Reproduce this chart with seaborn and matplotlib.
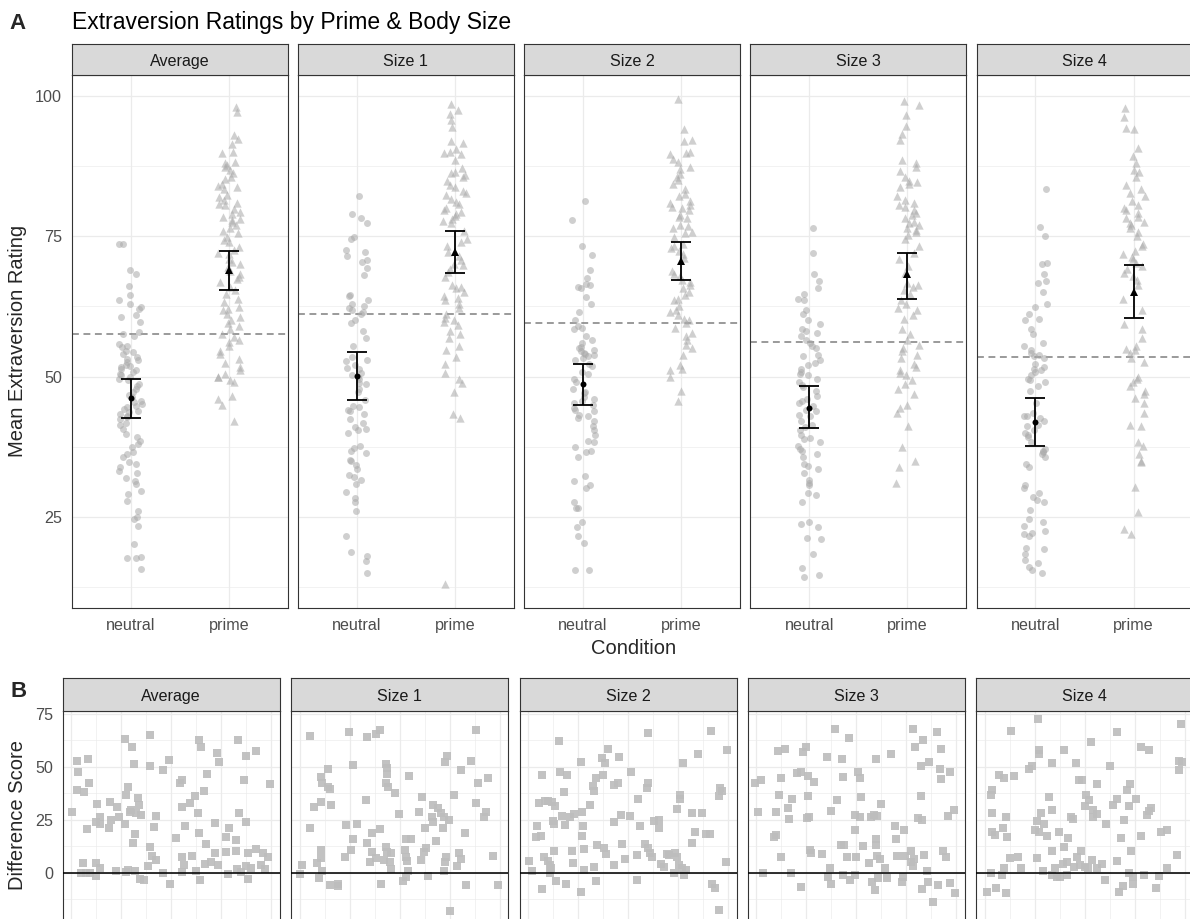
import numpy as np
import pandas as pd
import matplotlib
matplotlib.use("Agg")
import matplotlib.pyplot as plt
from matplotlib.ticker import FixedLocator, NullLocator
import seaborn as sns

# ---------------- data ----------------
panels = ["Average", "Size 1", "Size 2", "Size 3", "Size 4"]
conditions = ["neutral", "prime"]

# individual mean extraversion ratings
avg_neutral = [73.6, 73.6, 69.0, 68.3, 66.1, 64.6, 63.7, 63.0, 62.4, 62.1, 61.0, 60.6, 59.7, 57.9,
               57.6, 57.2, 55.8, 55.2, 54.6, 54.0, 53.5, 52.9, 52.6, 52.0, 51.7, 51.4, 51.1, 50.8,
               50.5, 49.9, 49.3, 48.7, 47.8, 47.2, 46.3, 45.7, 45.1, 44.5, 44.2, 43.9, 43.3, 43.0,
               42.4, 41.8, 41.3, 39.8, 39.2, 38.6, 38.0, 37.4, 36.5, 36.2, 35.6, 34.7, 34.4, 33.8,
               33.2, 32.9, 32.0, 31.4, 30.8, 29.6, 29.0, 27.9, 26.0, 24.9, 24.6, 23.4, 20.1, 17.9,
               17.7, 17.7, 15.7, 55.5, 54.3, 53.1, 51.9, 50.2, 49.6, 48.3, 46.8, 45.4, 44.8, 43.6,
               42.8, 40.6]
avg_prime = [98.1, 97.2, 93.0, 92.3, 91.4, 90.1, 89.8, 88.3, 88.0, 87.7, 87.4, 86.8, 86.2, 85.6,
             85.3, 84.4, 83.8, 83.5, 82.3, 82.0, 81.4, 80.8, 80.5, 79.9, 79.3, 79.0, 78.5, 77.9,
             77.6, 77.0, 76.4, 75.5, 74.9, 74.3, 74.0, 73.1, 72.5, 71.9, 71.0, 70.4, 69.5, 68.9,
             68.3, 67.7, 67.4, 66.8, 66.0, 64.8, 63.9, 63.3, 62.4, 61.8, 61.2, 60.6, 60.0, 59.1,
             58.5, 57.6, 57.0, 56.1, 55.5, 54.6, 54.0, 53.2, 51.7, 51.1, 50.5, 49.9, 49.3, 49.0,
             46.6, 46.0, 45.0, 42.1, 84.0, 81.0, 78.0, 76.0, 72.0, 70.0, 65.5, 62.0, 59.5, 56.5,
             52.5, 50.0]
s1_neutral = [82.1, 79.0, 78.3, 77.3, 74.9, 74.6, 72.5, 72.2, 71.5, 70.8, 70.5, 69.4, 68.1, 64.6,
              64.3, 63.6, 62.9, 62.6, 62.2, 61.9, 61.2, 59.5, 58.1, 56.8, 55.4, 53.4, 52.7, 52.0,
              51.6, 51.3, 50.6, 49.9, 49.6, 48.9, 48.6, 47.2, 45.8, 44.8, 44.1, 43.8, 43.4, 42.4,
              41.7, 40.7, 40.4, 40.0, 37.6, 37.3, 36.3, 35.2, 34.9, 34.2, 33.5, 32.5, 32.1, 31.5,
              30.8, 29.4, 28.4, 27.7, 26.0, 21.5, 18.8, 18.1, 17.1, 15.0, 61.5, 60.0, 53.0, 50.2,
              47.8, 44.5, 41.0, 36.8]
s1_prime = [98.5, 97.5, 96.8, 95.8, 94.4, 92.0, 91.7, 90.6, 89.9, 89.6, 88.6, 87.2, 86.5, 86.2,
            85.5, 84.8, 84.1, 83.8, 83.1, 82.4, 81.7, 81.1, 80.7, 80.0, 79.3, 79.0, 78.7, 78.0,
            77.3, 75.9, 74.6, 73.2, 72.2, 71.5, 70.8, 69.8, 69.1, 68.7, 67.7, 66.3, 65.7, 65.0,
            64.3, 63.6, 62.9, 62.2, 61.2, 60.5, 59.8, 59.2, 58.1, 56.8, 55.4, 54.7, 53.4, 52.3,
            50.6, 49.6, 48.9, 47.2, 43.4, 42.7, 13.0, 90.0, 86.0, 82.8, 79.6, 77.7, 74.0, 70.0,
            66.0, 64.0, 60.0, 57.5]
s2_neutral = [81.3, 77.9, 73.3, 71.6, 69.0, 67.6, 66.5, 66.3, 66.0, 65.7, 64.1, 62.9, 61.5, 60.0,
              59.0, 58.6, 58.4, 57.2, 56.6, 55.1, 54.8, 54.5, 54.2, 53.9, 53.6, 53.3, 52.3, 50.8,
              50.5, 49.0, 47.8, 47.2, 46.3, 45.6, 45.3, 45.0, 44.4, 43.8, 43.2, 42.6, 41.1, 40.5,
              38.6, 38.3, 37.4, 36.8, 36.5, 35.6, 32.3, 31.3, 30.7, 30.1, 27.7, 26.5, 26.5, 24.0,
              23.1, 21.6, 20.3, 15.5, 15.6, 56.0, 55.3, 54.0, 53.0, 51.8, 49.5, 47.0, 46.0, 44.0,
              43.0, 42.0, 39.5]
s2_prime = [99.5, 94.2, 92.1, 91.9, 90.1, 89.9, 89.7, 88.3, 87.3, 87.0, 86.1, 85.5, 84.4, 83.4,
            82.2, 81.3, 80.9, 80.6, 80.3, 79.7, 78.8, 78.2, 77.0, 76.4, 75.8, 75.5, 74.9, 73.6,
            73.3, 72.4, 71.8, 71.2, 68.8, 68.2, 67.9, 67.3, 66.3, 65.7, 65.1, 63.9, 63.6, 61.8,
            61.5, 60.9, 60.3, 60.0, 58.7, 57.2, 56.6, 55.7, 55.1, 53.9, 52.0, 51.4, 51.1, 49.9,
            47.5, 45.6, 88.8, 85.0, 82.6, 80.0, 78.5, 76.8, 73.0, 66.8, 64.5, 62.5, 59.5, 57.8]
s3_neutral = [76.4, 72.0, 68.2, 67.0, 65.7, 64.8, 63.9, 63.6, 61.8, 61.2, 60.0, 59.3, 58.4, 58.1,
              57.8, 57.2, 56.6, 56.0, 55.1, 53.9, 53.6, 53.0, 52.0, 51.4, 50.8, 50.2, 49.6, 49.0,
              48.1, 47.5, 46.6, 45.6, 45.3, 44.7, 43.8, 43.2, 42.9, 42.0, 41.4, 40.5, 39.6, 39.0,
              38.3, 37.7, 37.1, 36.8, 36.2, 35.6, 34.4, 34.1, 33.5, 32.9, 31.6, 31.0, 30.7, 29.2,
              28.9, 27.7, 24.0, 23.7, 23.1, 21.3, 21.0, 18.3, 15.8, 14.6, 14.2, 55.5, 52.5, 50.5,
              48.5, 46.0, 44.0, 41.0, 38.8]
s3_prime = [99.2, 98.4, 96.6, 94.6, 93.3, 92.1, 88.6, 88.0, 87.3, 86.7, 85.5, 84.9, 84.3, 83.7,
            82.2, 80.9, 80.6, 80.3, 79.7, 78.8, 78.2, 77.6, 77.0, 76.4, 75.8, 75.2, 74.6, 73.3,
            72.1, 70.9, 69.7, 68.5, 66.6, 66.0, 65.4, 64.8, 63.6, 63.0, 61.8, 60.9, 60.3, 58.4,
            57.5, 56.6, 55.7, 55.1, 53.9, 53.3, 52.3, 51.7, 51.1, 50.2, 49.3, 48.7, 47.8, 46.9,
            45.0, 44.4, 43.5, 41.1, 37.4, 35.0, 33.8, 31.0, 84.6, 81.5, 79.2, 77.3, 76.1, 66.3,
            62.2, 54.5, 50.7]
s4_neutral = [83.4, 76.7, 75.0, 70.3, 70.0, 68.2, 67.0, 66.7, 65.1, 63.0, 62.4, 61.2, 60.3, 60.0,
              58.4, 57.5, 56.0, 55.4, 54.8, 54.2, 53.9, 53.3, 52.3, 51.7, 51.4, 50.8, 50.2, 49.6,
              49.0, 48.4, 47.5, 45.3, 43.5, 42.9, 42.6, 42.0, 41.4, 41.1, 40.5, 39.6, 39.3, 38.3,
              37.1, 36.5, 36.2, 35.6, 34.4, 33.8, 30.7, 30.1, 29.2, 28.6, 28.0, 27.7, 26.2, 24.6,
              24.0, 23.4, 22.5, 22.2, 21.9, 21.6, 19.5, 19.2, 18.3, 17.3, 16.7, 16.1, 15.5, 14.9,
              53.6, 51.1, 49.3, 43.0, 40.0, 36.8]
s4_prime = [97.8, 96.2, 94.3, 94.2, 90.7, 89.3, 88.1, 86.9, 86.4, 85.6, 84.2, 82.8, 82.2, 81.3,
            80.6, 79.7, 79.1, 78.5, 78.2, 77.6, 77.0, 76.4, 75.8, 73.6, 73.3, 72.4, 71.8, 70.9,
            70.3, 69.7, 69.1, 67.9, 67.3, 66.3, 63.9, 61.8, 59.3, 58.4, 56.9, 55.4, 54.8, 54.2,
            53.3, 52.6, 49.6, 49.0, 48.4, 47.5, 46.9, 45.3, 43.5, 41.4, 41.1, 38.3, 37.7, 36.2,
            35.0, 34.7, 30.4, 25.9, 22.8, 21.9, 83.5, 80.0, 77.3, 75.0, 71.3, 68.5, 55.0, 50.0,
            46.2]

neutral_ratings = [avg_neutral, s1_neutral, s2_neutral, s3_neutral, s4_neutral]
prime_ratings = [avg_prime, s1_prime, s2_prime, s3_prime, s4_prime]

# condition means with 95% confidence limits, and the overall panel mean
mean_neutral = [46.2, 50.1, 48.7, 44.4, 41.9]
ci_neutral_low = [42.6, 45.8, 44.9, 40.8, 37.7]
ci_neutral_high = [49.6, 54.4, 52.2, 48.3, 46.1]
mean_prime = [69.0, 72.2, 70.6, 68.2, 65.1]
ci_prime_low = [65.5, 68.4, 67.3, 63.9, 60.4]
ci_prime_high = [72.4, 75.9, 74.0, 72.1, 69.8]
grand_mean = [57.5, 61.1, 59.5, 56.1, 53.5]

# difference scores (prime - neutral) by participant
avg_part = [0.5, 3, 3.3, 3, 6.2, 8.3, 8.8, 8, 5.8, 5, 7.5, 9.2, 12.5, 12.5, 14.2, 12.8, 12.5, 14.2,
            14.5, 19.2, 18.8, 20, 23, 23.8, 22.5, 26.7, 30.3, 31.2, 28.3, 27.2, 26.7, 29.2, 30,
            33.3, 33.8, 32.5, 35, 30.8, 32, 27.2, 28.3, 31.7, 34.2, 36.2, 39.2, 39.5, 41.2, 42.5,
            39.2, 40.5, 42.2, 38.3, 45.8, 45.8, 48.8, 49.5, 52.5, 54.2, 55.3, 55.3, 56.7, 55.5,
            56.2, 55.5, 60.5, 59.2, 61.7, 63.3, 63.7, 62.5, 64.2, 63.8, 65, 66.2, 67.8, 67.5, 66.7,
            70, 71.7, 73, 73.7, 71.7, 73.3, 77.5, 78.8, 77.5, 78.3, 82.2, 82.2, 82.8, 83.3, 83.7,
            85, 87.2, 86.3, 87.5, 88.3, 87.5, 88.3, 90, 92.2, 92.2, 95, 95.8, 96.7, 98.3, 99.2]
avg_diff = [28.8, 52.8, 47.7, 39.0, 38.2, 53.6, 42.2, 20.4, 4.6, 0, 0, 0, 4.6, -1.7, 2.4, 32.4,
            24.0, 22.9, 26.4, 33.5, 20.9, 24.8, 31.1, 26.4, 0.8, 63.0, 59.2, 51.2, 40.6, 36.7,
            23.2, 28.8, 29.5, 35.1, 31.9, 28.0, 27.2, 14.1, 18.2, 0.3, 1.4, 0.8, -2.8, -3.6, 65.1,
            50.4, 21.6, 26.9, 12.2, 7.7, 6.2, 3.0, -0.2, 48.2, 53.2, -5.2, 16.4, 42.2, 43.8, 31.1,
            21.9, 7.4, 3.5, 0.3, 7.7, 32.7, 36.2, 28.3, 18.5, 0.6, -3.6, 62.7, 59.2, 38.7, 46.6,
            13.7, 3.9, 5.1, 9.3, 56.4, 52.0, 23.5, 3.5, 16.9, 20.9, 9.8, -0.5, 15.3, 10.3, 1.6,
            62.7, 28.0, 0.3, 55.1, 43.8, 24.0, 9.3, 3.0, -2.8, 2.4, 57.5, 11.4, 3.5, 9.3, 1.9,
            7.4, 41.7]
s1_part = [5, 24.5, 33.7, 38.3, 40.3, 88, 73.7, 72.5, 85.8, 80.8, 14.3, 26.7, 43, 43.7, 43.7,
           54.5, 10.8, 11.3, 14.2, 15.3, 43, 44.2, 47.5, 89.2, 94, 77.2, 61, 10.5, 7.2, 15.8, 33,
           66.7, 69.2, 70.8, 72, 74.7, 66.3, 66.7, 88.3, 93.3, 92, 49.7, 59.7, 5, 23, 28.8, 36.3,
           40.3, 62.5, 71.7, 82.5, 26.7, 33.7, 53.3, 55.8, 68, 10.8, 25.8, 22.5, 10.8, 8.8, 1.2,
           36.3, 38, 35.3, 43, 43.7, 45.8, 42, 45.3, 45.8, 52.5, 53, 53.7, 63.3, 62, 60.8, 73,
           72.5, 79.7, 80.8, 78.7, 96.7, 11.3, 0.3, 9.7, 15, 19.2, 19.2, 40.8, 53, 51.7, 54.2,
           64.2, 72, 83, 99.2, 75]
s1_diff = [64.3, 66.2, 63.8, 65.4, 67.5, 67.1, 54.8, 52.0, 52.8, 48.2, 48.8, 50.6, 51.3, 49.3,
           46.6, 45.7, 45.0, 42.2, 40.3, 39.3, 42.5, 40.6, 37.8, 42.2, 44.5, 36.7, 35.5, 33.5,
           30.8, 31.9, 34.3, 31.9, 30.3, 28.0, 26.1, 24.8, 26.4, 24.0, 32.7, 28.8, 26.4, 27.6,
           28.8, 20.9, 22.4, 22.9, 18.5, 20.4, 21.2, 20.9, 18.8, 16.1, 14.1, 16.1, 16.1, 15.0,
           10.9, 10.6, 7.4, 7.1, 4.7, 3.5, 9.8, 7.1, 5.1, 12.2, 9.8, 9.3, 5.8, 5.1, 1.9, 10.6,
           7.4, 5.5, 11.8, 9.8, 5.8, 7.4, 5.1, 9.3, 6.6, 3.0, 7.7, 0.8, -0.8, -2.4, -6.0, -5.2,
           -6.5, -5.5, -2.1, -3.9, 0.8, -1.7, 0.8, -5.7, -6.0, -18.2]
s2_part = [0.3, 1.7, 6.7, 4.2, 3.7, 6.3, 5.3, 7, 8.3, 10, 12, 13.3, 8, 10, 10.8, 11.3, 10.8, 13,
           12.5, 13, 13.7, 15.3, 15.8, 19.2, 18, 17, 18.3, 20.8, 23, 18.7, 22, 22.5, 26.3, 27,
           27.5, 26.7, 28, 28, 26.3, 30.8, 32.5, 32.7, 34, 34.2, 32.7, 33.7, 37.5, 37, 38.3, 40,
           38, 38.7, 45.3, 43, 45, 43, 46.3, 42.7, 46.7, 48.3, 51.3, 50.8, 54.7, 55.8, 54.2, 54.2,
           60, 59.7, 59.2, 58.3, 60, 60.8, 61.7, 63, 65.3, 65.3, 66.3, 68, 69.2, 70.3, 73.3, 74.5,
           73, 75.3, 76.7, 78, 78.7, 74.2, 75.8, 75.8, 77.2, 81.7, 82, 83.3, 84.7, 87, 88.7, 90.8,
           91.3, 92, 93.3, 95.3, 95.8, 95.3, 97, 98.7, 99.2]
s2_diff = [5.7, 0.9, -7.9, 21.8, 16.6, 17.4, 32.9, 46.3, 33.6, 33.6, 33.2, 31.3, 7.6, 5.7, 3.6,
           2.1, 0, 10.4, 24.2, 23.1, -4.1, 61.9, 47.7, 46.3, 38.2, 26.9, 22.3, 26.2, 27.6, -5.1,
           10.4, 4.4, 52.1, 28.4, 21.8, 17.4, 11.1, 1.3, -9.0, 31.8, 40.8, 38.4, 44.5, 13.1, 2.5,
           -3.8, 46.0, 54.2, 51.8, 58.5, 11.5, 8.8, 54.7, 41.5, 42.3, 23.7, 27.3, 3.6, 13.6, 6.3,
           47.7, 26.9, 34.9, 22.1, 8.4, -3.5, 65.7, 42.3, 40.0, 13.4, 11.5, 9.2, 7.6, 24.2, 25.0,
           21.0, 4.1, 2.8, 8.8, 8.4, 9.2, 7.6, -0.3, 3.6, 2.1, -1.1, 1.3, 30.0, 36.8, 34.8, 51.5,
           28.1, 14.2, 19.3, 55.8, 28.1, 18.3, 18.3, 66.7, -5.1, -7.0, -17.4, 40.0, 36.0, 38.7,
           5.2, 57.7]
s3_part = [-0.5, 2.5, 0.8, 3.3, 8.8, 9.7, 10, 10.8, 14.2, 12.5, 11.2, 12.2, 15.8, 16.2, 17.8,
           17.5, 20.5, 22.2, 23.3, 24.7, 25.8, 28.8, 25.8, 26.3, 25.5, 26.7, 27.5, 22.5, 32.8,
           37.2, 39.5, 40.5, 35.3, 35.8, 36.7, 37.2, 42.8, 43.3, 42.2, 43.8, 43.3, 45.5, 46.3,
           46.7, 49.5, 50, 49.2, 50.8, 51.7, 52.5, 49.5, 51.7, 53.3, 56.2, 57.2, 58.8, 60.5, 60,
           60, 60, 60.5, 61.7, 62.2, 57.8, 59.5, 60.8, 64.5, 65.5, 67.2, 69.5, 70, 70.5, 72.8,
           73.8, 74.5, 73.3, 77.5, 77.2, 78.3, 78.8, 78.3, 79.5, 83.3, 82.2, 86.2, 82.2, 80.8,
           82.8, 83.8, 85.5, 85.8, 82.8, 88.3, 90.8, 90.5, 92.2, 91.7, 96.7, 92.5, 93.3, 95, 95.8,
           98.8, 96.7, 99.2]
s3_diff = [42.3, 43.6, 28.4, 0, 16.7, 17.9, 28.4, 57.3, 58.5, 44.5, 36.5, 7.6, 30.5, 25.3, 34.9,
           0, 46.8, 47.4, 56.9, 59.4, 45.8, 42.7, 36.3, 26.5, 25.7, 10.7, 9.5, -6.6, 8.8, 28.9,
           67.9, 34.1, 54.7, -1.9, 2.1, -5.4, 53.7, 45.2, 13.1, 13.1, -1.1, 7.6, 63.7, -3.5, -1.1,
           7.6, 20.2, 47.4, 44.7, 35.7, 27.3, 26.5, 12.8, 4.4, 26.5, 27.3, 26.9, 53.7, 15.8, 13.1,
           7.9, 6.3, 32.5, -4.3, -8.2, -2.7, 2.1, -2.7, 56.2, 21.8, 15.8, 7.9, -4.3, 19.9, 7.9,
           -1.9, 10.4, 5.2, 3.2, 6.3, 67.9, 59.4, 62.6, 50.2, 52.1, 36.3, 25.7, 25.0, 8.4, 0.9,
           -4.3, -7.9, -13.7, -5.8, 66.3, 58.5, 48.7, 47.4, 44.2, 10.0, 7.3, 26.9, 29.7, -4.7,
           -9.8]
s4_part = [1, 3.3, 5.5, 8.8, 10.5, 9.7, 3.8, 5, 9.3, 11, 3.8, 10.5, 3, 3.8, 7.2, 9.7, 14.7, 13.3,
           12.7, 16.8, 18.3, 22.2, 23.8, 26.8, 27.2, 27.2, 33.5, 32.2, 33.8, 28, 26.3, 29.7, 25.2,
           27.2, 31, 26.3, 33.5, 29, 33.8, 36, 37.7, 35, 39.7, 37, 39.7, 41.7, 39.3, 41.3, 41, 43,
           44.3, 45.5, 47.2, 48.8, 48, 46, 44.7, 47.7, 50.5, 52.2, 50, 54.3, 56, 54.3, 53, 56, 50,
           51.7, 53.8, 56.3, 58.8, 60.5, 60, 62.7, 64.3, 66.3, 66.3, 66, 67.2, 69.3, 68.3, 69.7,
           71.3, 72.7, 72.2, 75.8, 73.3, 72.2, 74.3, 74.3, 78, 78.3, 82.2, 81, 82.2, 83, 79.7,
           85.5, 87.2, 88.3, 91.3, 91.3, 96, 97.2, 97.2, 98.8, 98]
s4_diff = [-9.0, -0.3, -7.0, -1.1, -9.5, 2.1, 19.4, 17.9, 21.0, 16.7, 28.1, 26.5, 36.8, 39.2,
           46.3, 44.7, 45.8, 66.8, 6.8, 7.6, 2.1, 48.7, 50.2, 72.7, 58.1, 56.2, 51.8, 35.7, 29.7,
           28.1, 24.2, 23.1, 19.9, 19.0, 17.1, 6.8, 10.4, 0.9, -1.1, -1.9, -1.9, 2.1, 57.8, 19.0,
           12.3, 16.3, 4.1, 5.2, -1.1, 26.5, 25.3, 51.8, 43.6, 43.6, 10.4, 7.3, 2.8, 3.6, 36.8,
           34.1, 31.6, 29.7, 27.8, 26.2, 61.6, 42.0, 2.8, 2.1, 6.0, 2.1, 4.1, 23.1, -3.5, 50.2,
           32.1, 34.8, 66.3, 5.7, -9.0, -6.3, 16.3, 25.0, 39.2, 42.0, 31.3, 34.8, 10.4, 0, -1.9,
           -5.4, 17.4, 59.4, 57.8, 27.3, 28.9, 30.5, -1.1, -7.0, -1.6, 19.4, 20.2, 2.1, 8.4, 48.3,
           52.6, 52.1, 70.0]

participants = [avg_part, s1_part, s2_part, s3_part, s4_part]
diff_scores = [avg_diff, s1_diff, s2_diff, s3_diff, s4_diff]

# ---------------- style ----------------
sns.set_theme(style="white")
plt.rcParams["font.family"] = ["Liberation Sans", "DejaVu Sans"]

W, H = 1190, 919
fig = plt.figure(figsize=(W / 100, H / 100), dpi=100)
fig.patch.set_facecolor("white")

BORDER = "#333333"
GRID = "#ebebeb"
TICK_TXT = "#4d4d4d"
POINT = "#a9a9a9"
TICK_FS = 11.6
STRIP_FS = 11.6
AXTITLE_FS = 14.5


def px_axes(left, top, width, height):
    return fig.add_axes([left / W, 1 - (top + height) / H, width / W, height / H])


def style_panel(ax):
    ax.set_facecolor("white")
    for sp in ax.spines.values():
        sp.set_visible(True)
        sp.set_color(BORDER)
        sp.set_linewidth(0.8)
    ax.set_axisbelow(True)
    ax.grid(which="major", color=GRID, linewidth=0.9)
    ax.grid(which="minor", color=GRID, linewidth=0.45)
    ax.set_xlabel("")
    ax.set_ylabel("")
    ax.tick_params(which="major", length=4, width=0.8, color=BORDER,
                   labelsize=TICK_FS, labelcolor=TICK_TXT, pad=3)
    ax.tick_params(which="minor", length=0)


def add_strip(left, top, width, height, label):
    sax = px_axes(left, top, width, height)
    sax.set_facecolor("#d9d9d9")
    sax.set_xticks([])
    sax.set_yticks([])
    for sp in sax.spines.values():
        sp.set_visible(True)
        sp.set_color(BORDER)
        sp.set_linewidth(0.8)
    sax.text(0.5, 0.30, label, transform=sax.transAxes, ha="center", va="baseline",
             fontsize=STRIP_FS, color="#1a1a1a")


# ---------------- panel A: ratings by condition ----------------
np.random.seed(11)
top_lefts = [71.7, 297.9, 524.1, 750.3, 976.5]
top_w, top_y, top_h = 216, 75, 533
mean_marker = {"neutral": ("o", 4.3), "prime": ("^", 5.6)}

for i, name in enumerate(panels):
    ax = px_axes(top_lefts[i], top_y, top_w, top_h)
    add_strip(top_lefts[i], 44, top_w, 31, name)

    df_n = pd.DataFrame({"condition": "neutral", "rating": neutral_ratings[i]})
    df_p = pd.DataFrame({"condition": "prime", "rating": prime_ratings[i]})

    ax.axhline(grand_mean[i], color="#7f7f7f", linewidth=1.1, linestyle=(0, (4.5, 3)), zorder=1)

    sns.stripplot(data=df_n, x="condition", y="rating", order=conditions, color=POINT,
                  alpha=0.55, marker="o", size=5.0, jitter=0.12, linewidth=0, ax=ax, zorder=2)
    sns.stripplot(data=df_p, x="condition", y="rating", order=conditions, color=POINT,
                  alpha=0.55, marker="^", size=6.0, jitter=0.12, linewidth=0, ax=ax, zorder=2)

    summary = pd.DataFrame({"condition": conditions,
                            "rating": [mean_neutral[i], mean_prime[i]]})
    for cond in conditions:
        mk, ms = mean_marker[cond]
        sns.pointplot(data=summary[summary["condition"] == cond], x="condition", y="rating",
                      order=conditions, color="black", marker=mk, linestyle="none",
                      errorbar=None, markersize=ms, markeredgewidth=0, ax=ax)
    lo = [mean_neutral[i] - ci_neutral_low[i], mean_prime[i] - ci_prime_low[i]]
    hi = [ci_neutral_high[i] - mean_neutral[i], ci_prime_high[i] - mean_prime[i]]
    ax.errorbar(np.arange(len(conditions)), [mean_neutral[i], mean_prime[i]], yerr=[lo, hi],
                fmt="none", ecolor="black", elinewidth=1.3, capsize=7.2, capthick=1.3, zorder=5)

    ax.set_xlim(-0.6, 1.6)
    ax.set_ylim(8.75, 103.75)
    ax.yaxis.set_major_locator(FixedLocator([25, 50, 75, 100]))
    ax.yaxis.set_minor_locator(FixedLocator([12.5, 37.5, 62.5, 87.5]))
    ax.xaxis.set_minor_locator(NullLocator())
    style_panel(ax)
    ax.tick_params(axis="x", pad=3.5)
    if i > 0:
        ax.tick_params(axis="y", left=False, labelleft=False)

fig.text(9.5 / W, 1 - 29 / H, "A", fontsize=16, fontweight="bold", va="baseline", ha="left")
fig.text(72 / W, 1 - 29 / H, "Extraversion Ratings by Prime & Body Size", fontsize=16.5,
         va="baseline", ha="left", color="black")
fig.text(18 / W, 1 - 341 / H, "Mean Extraversion Rating", rotation=90, ha="center",
         va="center", fontsize=AXTITLE_FS)
fig.text(634 / W, 1 - 648 / H, "Condition", ha="center", va="center", fontsize=AXTITLE_FS)

# ---------------- panel B: difference scores ----------------
bot_lefts = [62.7, 291.2, 519.5, 747.8, 976.1]
bot_w, bot_y, bot_h = 217, 710.7, 215

for i, name in enumerate(panels):
    ax = px_axes(bot_lefts[i], bot_y, bot_w, bot_h)
    add_strip(bot_lefts[i], 678.3, bot_w, 32.4, name)

    sns.scatterplot(x=participants[i], y=diff_scores[i], marker="s", s=34, color="#bdbdbd",
                    alpha=0.92, linewidth=0, ax=ax, zorder=2)
    ax.axhline(0, color="black", linewidth=1.15, zorder=3)

    ax.set_xlim(-4.3, 104.2)
    ax.set_ylim(-25.0, 76.4)
    ax.xaxis.set_major_locator(FixedLocator([0, 25, 50, 75, 100]))
    ax.xaxis.set_minor_locator(FixedLocator([12.5, 37.5, 62.5, 87.5]))
    ax.yaxis.set_major_locator(FixedLocator([0, 25, 50, 75]))
    ax.yaxis.set_minor_locator(FixedLocator([-12.5, 12.5, 37.5, 62.5]))
    style_panel(ax)
    ax.tick_params(axis="x", bottom=False, labelbottom=False)
    ax.tick_params(axis="y", length=4.2, pad=2.7)
    if i > 0:
        ax.tick_params(axis="y", left=False, labelleft=False)

fig.text(11 / W, 1 - 697 / H, "B", fontsize=16, fontweight="bold", va="baseline", ha="left")
fig.text(18 / W, 1 - 815 / H, "Difference Score", rotation=90, ha="center", va="center",
         fontsize=AXTITLE_FS)

fig.savefig("out.png", dpi=100, facecolor="white")
